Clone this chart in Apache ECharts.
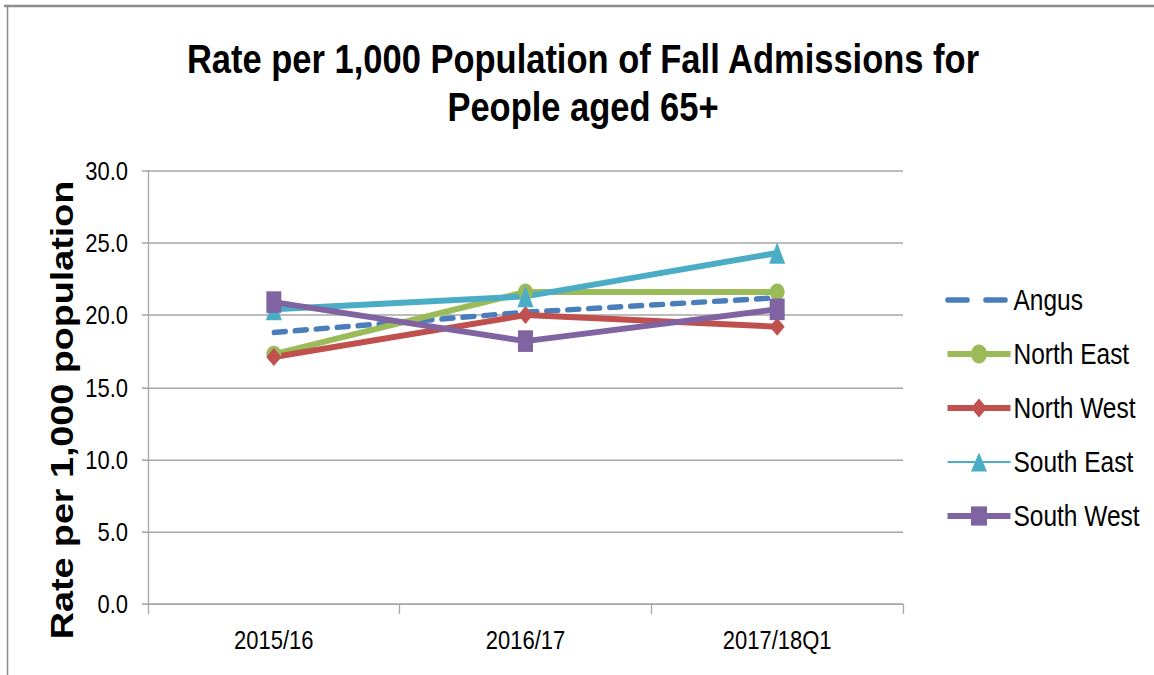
<!DOCTYPE html>
<html>
<head>
<meta charset="utf-8">
<script src="https://cdn.jsdelivr.net/npm/echarts@6/dist/echarts.min.js"></script>
<style>
html,body{margin:0;padding:0;background:#fff;width:1154px;height:675px;overflow:hidden;}
#c{width:1154px;height:562.5px;transform:scaleY(1.2);transform-origin:0 0;}
</style>
</head>
<body>
<div id="c"></div>
<script>
const categories = ['2015/16', '2016/17', '2017/18Q1'];
const angus = [18.8, 20.2, 21.2];
const northEast = [17.3, 21.6, 21.6];
const northWest = [17.1, 20.0, 19.2];
const southEast = [20.4, 21.3, 24.3];
const southWest = [20.9, 18.2, 20.4];
const yTicks = [0, 5, 10, 15, 20, 25, 30];

const chart = echarts.init(document.getElementById('c'), null, { renderer: 'svg', width: 1154, height: 562.5 });
const font = "'Liberation Sans', Arial, sans-serif";
const grey = '#a6a6a6';

function lineSeries(name, data, color, symbol, size, extra) {
  return Object.assign({
    name: name, type: 'line', data: data,
    symbol: symbol, symbolSize: size, showSymbol: true,
    lineStyle: { color: color, width: 5 },
    itemStyle: { color: color },
    emphasis: { disabled: true },
    animation: false
  }, extra || {});
}

chart.setOption({
  animation: false,
  backgroundColor: '#fff',
  title: {
    text: 'Rate per 1,000 Population of Fall Admissions for\nPeople aged 65+',
    left: 578, top: 24, textAlign: 'center',
    textStyle: { fontFamily: font, fontWeight: 'bold', fontSize: 34.5, lineHeight: 40, color: '#000' }
  },
  grid: { left: 148, right: 251, top: 142.25, bottom: 59.2, containLabel: false },
  legend: {
    orient: 'vertical', left: 940, top: 232.5, itemGap: 20, itemWidth: 63, itemHeight: 20,
    textStyle: { fontFamily: font, fontSize: 24.5, lineHeight: 20, color: '#000', padding: [0, 0, 0, -2] },
    data: [
      { name: 'Angus', itemStyle: { opacity: 0 }, lineStyle: { type: [20, 18], width: 4.5 } },
      { name: 'North East', lineStyle: { width: 5 } },
      { name: 'North West', lineStyle: { width: 5 } },
      { name: 'South East', lineStyle: { width: 1.5 } },
      { name: 'South West', lineStyle: { width: 5 } }
    ]
  },
  xAxis: {
    type: 'category', data: categories, boundaryGap: true,
    axisLine: { lineStyle: { color: grey, width: 1.3 } },
    axisTick: { show: true, length: 8.3, lineStyle: { color: grey, width: 1.3 } },
    axisLabel: { fontFamily: font, fontSize: 22, color: '#000', margin: 19 },
    splitLine: { show: false }
  },
  yAxis: {
    type: 'value', min: 0, max: 30, interval: 5,
    axisLine: { show: true, lineStyle: { color: grey, width: 1.3 } },
    axisTick: { show: true, length: 6, lineStyle: { color: grey, width: 1.3 } },
    axisLabel: { fontFamily: font, fontSize: 22, color: '#000', margin: 20,
      formatter: v => yTicks.indexOf(v) >= 0 ? v.toFixed(1) : '' },
    splitLine: { show: true, lineStyle: { color: grey, width: 1.3 } }
  },
  graphic: [
    { type: 'line', shape: { x1: 4, y1: 5, x2: 1154, y2: 5 }, style: { stroke: '#8c8c8c', lineWidth: 2 }, silent: true },
    { type: 'line', shape: { x1: 7.5, y1: 5, x2: 7.5, y2: 562.5 }, style: { stroke: '#8c8c8c', lineWidth: 1.5 }, silent: true },
    { type: 'text', x: 62, y: 341.7, rotation: Math.PI / 2,
      style: { text: 'Rate per 1,000 population', fontFamily: font, fontWeight: 'bold', fontSize: 31.4,
        fill: '#000', align: 'center', verticalAlign: 'middle' }, silent: true }
  ],
  series: [
    lineSeries('Angus', angus, '#4a7ebb', 'none', 0, { lineStyle: { color: '#4a7ebb', width: 4.5, type: [12, 9], cap: 'round' } }),
    lineSeries('North East', northEast, '#9bbb59', 'circle', [15, 14]),
    lineSeries('North West', northWest, '#c0504d', 'diamond', [15, 15]),
    lineSeries('South East', southEast, '#4bacc6', 'triangle', [16, 18]),
    lineSeries('South West', southWest, '#8064a2', 'rect', [15, 18])
  ]
});
</script>
</body>
</html>
